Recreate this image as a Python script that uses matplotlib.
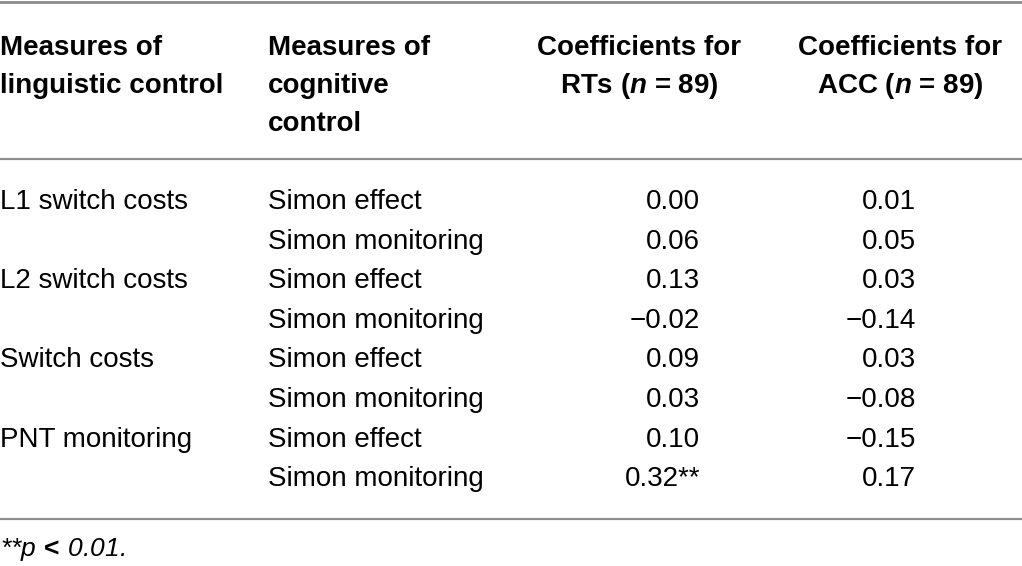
import matplotlib.pyplot as plt

plt.rcParams['font.family'] = 'Liberation Sans'
plt.rcParams['mathtext.fontset'] = 'custom'
plt.rcParams['mathtext.it'] = 'Liberation Sans:italic:bold'
plt.rcParams['mathtext.rm'] = 'Liberation Sans:bold'
plt.rcParams['mathtext.bf'] = 'Liberation Sans:bold'

header_1 = ["Measures of", "linguistic control"]
header_2 = ["Measures of", "cognitive", "control"]
header_3 = ["Coefficients for", "RTs ($\\mathit{n}$ = 89)"]
header_4 = ["Coefficients for", "ACC ($\\mathit{n}$ = 89)"]
linguistic = ["L1 switch costs", "", "L2 switch costs", "", "Switch costs", "",
              "PNT monitoring", ""]
cognitive = ["Simon effect", "Simon monitoring"] * 4
coef_rt = ["0.00", "0.06", "0.13", "\u22120.02", "0.09", "0.03", "0.10", "0.32**"]
coef_acc = ["0.01", "0.05", "0.03", "\u22120.14", "0.03", "\u22120.08", "\u22120.15", "0.17"]
footnote = "**p$\\,{\\mathbf{<}}\\,$0.01."

fig = plt.figure(figsize=(10.22, 5.66), dpi=100)
ax = fig.add_axes([0, 0, 1, 1])
ax.set_xlim(0, 1022)
ax.set_ylim(566, 0)
ax.axis('off')

fs = 20
line_col = '#8c8c8c'
for y, w in ((1.5, 2.0), (159, 1.6), (519, 1.6)):
    ax.axhline(y, color=line_col, lw=w)

# header, one text per line so the baselines stay even
hb, hdy = 55, 38
for j, s in enumerate(header_1):
    ax.text(0, hb + j * hdy, s, ha='left', va='baseline', fontsize=fs, fontweight='bold')
for j, s in enumerate(header_2):
    ax.text(268, hb + j * hdy, s, ha='left', va='baseline', fontsize=fs, fontweight='bold')
for j, s in enumerate(header_3):
    ax.text(639, hb + j * hdy, s, ha='center', va='baseline', fontsize=fs, fontweight='bold')
for j, s in enumerate(header_4):
    ax.text(900, hb + j * hdy, s, ha='center', va='baseline', fontsize=fs, fontweight='bold')

# body
y0, dy = 209, 39.6
for i in range(len(cognitive)):
    y = y0 + i * dy
    ax.text(0, y, linguistic[i], ha='left', va='baseline', fontsize=fs)
    ax.text(268, y, cognitive[i], ha='left', va='baseline', fontsize=fs)
    ax.text(700, y, coef_rt[i], ha='right', va='baseline', fontsize=fs)
    ax.text(916, y, coef_acc[i], ha='right', va='baseline', fontsize=fs)

ax.text(0, 556, footnote, ha='left', va='baseline', fontsize=fs - 1, style='italic')

fig.savefig('out.png', dpi=100)
